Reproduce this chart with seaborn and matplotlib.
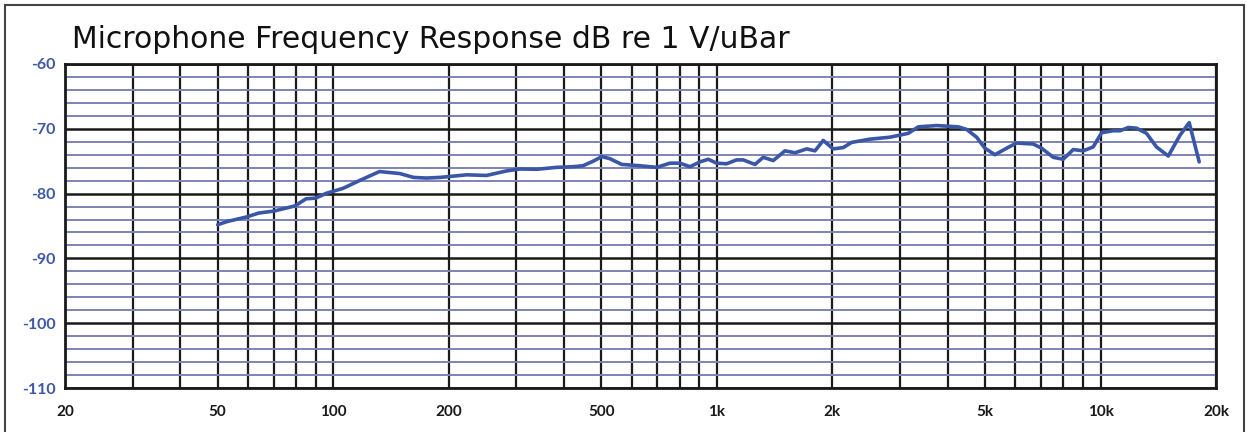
"""Microphone frequency response curve, dB re 1 V/uBar."""

import matplotlib

matplotlib.use("Agg")

import matplotlib.pyplot as plt
import pandas as pd
import seaborn as sns
from matplotlib.patches import Rectangle
from matplotlib.ticker import FixedLocator, NullFormatter

# frequency (Hz) and level (dB)
freq_hz = [50, 53, 59.5, 64, 70, 79.5, 85, 90, 96, 106,
           117, 132, 149, 162, 175, 190, 223, 251, 283, 307,
           339, 382, 422, 448, 476, 501, 526, 565, 630, 697,
           755, 801, 851, 904, 950, 998, 1060, 1126, 1172, 1257,
           1321, 1403, 1505, 1598, 1715, 1802, 1894, 2011, 2135, 2245,
           2506, 2825, 3155, 3350, 3740, 4260, 4480, 4755, 4997, 5307,
           5690, 6040, 6680, 7025, 7530, 7995, 8490, 9015, 9570, 10070,
           10790, 11240, 11810, 12410, 13180, 13990, 15020, 16110, 17030, 18080]
level_db = [-84.8, -84.3, -83.6, -83.0, -82.7, -81.9, -80.8, -80.7, -79.95, -79.2,
            -78.0, -76.6, -76.9, -77.5, -77.6, -77.5, -77.1, -77.2, -76.5, -76.2,
            -76.25, -75.95, -75.85, -75.7, -75.0, -74.3, -74.6, -75.5, -75.7, -75.95,
            -75.3, -75.3, -75.85, -75.1, -74.7, -75.3, -75.4, -74.8, -74.8, -75.5,
            -74.4, -74.9, -73.4, -73.7, -73.1, -73.4, -71.8, -73.1, -72.9, -72.1,
            -71.6, -71.3, -70.7, -69.7, -69.5, -69.7, -70.1, -71.3, -73.0, -74.0,
            -73.0, -72.2, -72.35, -73.0, -74.4, -74.7, -73.2, -73.4, -72.8, -70.6,
            -70.3, -70.3, -69.8, -69.9, -70.7, -72.8, -74.2, -71.0, -69.05, -75.1]

x_tick_values = [20, 50, 100, 200, 500, 1000, 2000, 5000, 10000, 20000]
x_tick_labels = ["20", "50", "100", "200", "500", "1k", "2k", "5k", "10k", "20k"]
y_tick_values = [-60, -70, -80, -90, -100, -110]

title_text = "Microphone Frequency Response dB re 1 V/uBar"

CURVE_COLOR = "#3a57a7"
MINOR_COLOR = "#7e83b6"
YLABEL_COLOR = "#3e58a5"


def main() -> None:
    sns.set_style("white")
    plt.rcParams["font.family"] = ["DejaVu Sans"]

    df = pd.DataFrame({"freq": freq_hz, "level": level_db})

    fig = plt.figure(figsize=(12.47, 4.32), dpi=100)
    ax = fig.add_axes([65 / 1247, 1 - 388 / 432, (1216 - 65) / 1247, (388 - 64) / 432])

    sns.lineplot(data=df, x="freq", y="level", ax=ax, color=CURVE_COLOR,
                 linewidth=2.6, estimator=None, sort=False, zorder=5)

    ax.set_xscale("log")
    ax.set_xlim(20, 20000)
    ax.set_ylim(-110, -60)

    # vertical grid at every 1-9 step of each decade
    grid_freqs = [m * 10 ** e for e in range(1, 5) for m in range(1, 10)]
    grid_freqs = [f for f in grid_freqs if 20 <= f <= 20000]
    ax.xaxis.set_major_locator(FixedLocator(x_tick_values))
    ax.xaxis.set_minor_locator(FixedLocator([f for f in grid_freqs if f not in x_tick_values]))
    ax.xaxis.set_minor_formatter(NullFormatter())
    ax.set_xticklabels(x_tick_labels)

    ax.yaxis.set_major_locator(FixedLocator(y_tick_values))
    ax.yaxis.set_minor_locator(FixedLocator([v for v in range(-108, -60, 2) if v % 10 != 0]))
    ax.set_yticklabels([str(v) for v in y_tick_values])

    ax.grid(which="both", axis="x", color="#1a1a1a", linewidth=1.6)
    ax.grid(which="major", axis="y", color="#1a1a1a", linewidth=1.8)
    ax.grid(which="minor", axis="y", color=MINOR_COLOR, linewidth=1.4)
    ax.set_axisbelow(True)

    ax.tick_params(axis="x", which="both", length=0, pad=12)
    ax.tick_params(axis="y", which="both", length=0, pad=7)
    for lab in ax.get_xticklabels():
        lab.set_fontfamily(["Lato", "DejaVu Sans"])
        lab.set_fontweight("bold")
        lab.set_fontsize(11)
        lab.set_color("#1a1a1a")
    for lab in ax.get_yticklabels():
        lab.set_fontfamily(["Lato", "DejaVu Sans"])
        lab.set_fontweight("bold")
        lab.set_fontsize(11.5)
        lab.set_color(YLABEL_COLOR)

    for spine in ax.spines.values():
        spine.set_color("#1a1a1a")
        spine.set_linewidth(2)

    ax.set_xlabel("")
    ax.set_ylabel("")

    fig.text(72 / 1247, 1 - 48 / 432, title_text, fontsize=21.5, fontweight="normal",
             color="#111111", ha="left", va="baseline")

    # outer frame, open at the bottom of the picture
    fig.add_artist(Rectangle((5 / 1247, -0.2), (1244 - 5) / 1247, 1.2 - 5 / 432,
                             transform=fig.transFigure, fill=False,
                             edgecolor="#444444", linewidth=1.5))

    fig.savefig("out.png", dpi=100)
    plt.close(fig)


if __name__ == "__main__":
    main()
